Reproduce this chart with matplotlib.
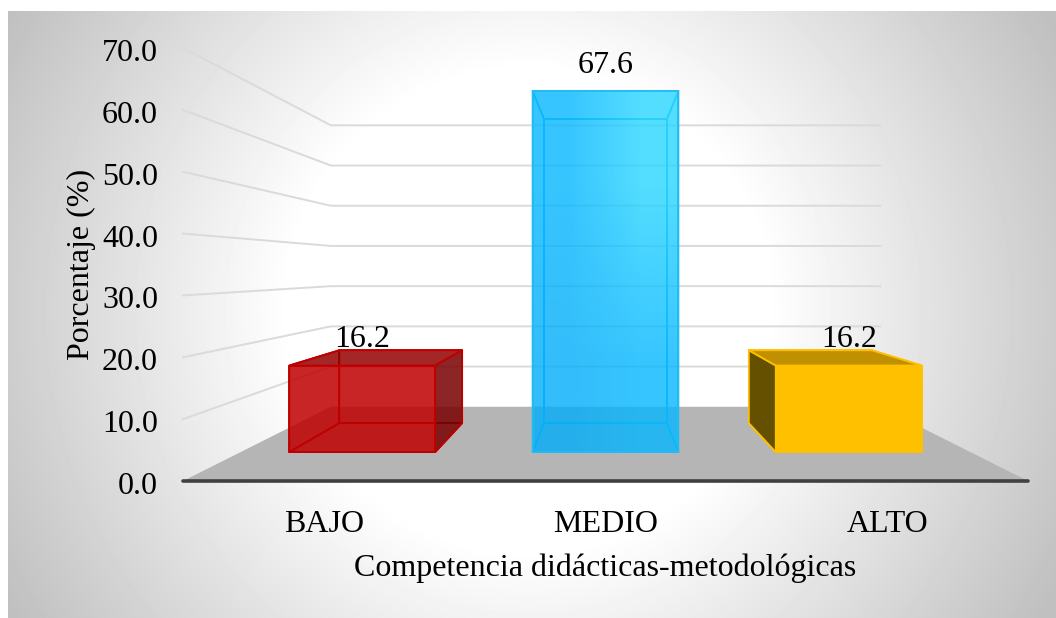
import numpy as np
import matplotlib
matplotlib.use("Agg")
import matplotlib.pyplot as plt
from matplotlib.patches import Polygon
from matplotlib.transforms import ScaledTranslation

categories = ["BAJO", "MEDIO", "ALTO"]
values = [16.2, 67.6, 16.2]
y_ticks = [0, 10, 20, 30, 40, 50, 60, 70]
x_title = "Competencia didácticas-metodológicas"
y_title = "Porcentaje (%)"

W, H = 1056, 618
SHRINK = 0.35     # how much the back wall shrinks
LIFT = 12.0       # back wall floor height in y units
T0, T1 = 0.39, 0.78
HALF = 0.30


def proj(x, y, t):
    """Depth t (0 front, 1 back wall) to coordinates on the front plane."""
    s = 1 - SHRINK * t
    return 1 + (x - 1) * s, LIFT * t + y * s


def box(x, top, t):
    """Four corners of a bar section at depth t."""
    return [proj(x - HALF, 0, t), proj(x + HALF, 0, t),
            proj(x + HALF, top, t), proj(x - HALF, top, t)]


def draw_bar(ax, x, top, st):
    f = box(x, top, T0)
    b = box(x, top, T1)
    faces = {
        "back": b,
        "floor": [f[0], f[1], b[1], b[0]],
        "left": [f[0], f[3], b[3], b[0]],
        "right": [f[1], f[2], b[2], b[1]],
        "top": [f[3], f[2], b[2], b[3]],
        "front": f,
    }
    for i, name in enumerate(faces):
        ax.add_patch(Polygon(faces[name], closed=True, facecolor=st[name],
                             edgecolor=st["edge"], lw=st["lw"], joinstyle="round",
                             clip_on=False, zorder=4 + i * 0.1))
    if "shine" in st:
        # soft diagonal shine on the front face
        g = np.array(st["shine"]).reshape(2, 2, 4)
        im = ax.imshow(g, extent=(f[0][0], f[1][0], f[0][1], f[3][1]), origin="lower",
                       aspect="auto", interpolation="bilinear", zorder=4.45)
        im.set_clip_path(Polygon(f, closed=True, transform=ax.transData))


blue_lo = (0.0, 0.68, 0.98, 0.80)
blue_mid = (0.02, 0.72, 1.0, 0.80)
blue_hi = (0.16, 0.84, 1.0, 0.80)

styles = [
    {"back": "none", "floor": "none", "left": "none",
     "right": (0.47, 0.0, 0.0, 0.85), "top": (0.58, 0.0, 0.0, 0.85),
     "front": (0.75, 0.0, 0.0, 0.85), "edge": "#c00000", "lw": 1.3},
    {"back": "none", "floor": "none", "left": "none", "right": "none", "top": "none",
     "front": "none", "edge": "#22bcf4", "lw": 1.2,
     "shine": [blue_lo, blue_mid, blue_mid, blue_hi]},
    {"back": "none", "floor": "none", "left": "#655000",
     "right": "#ffc000", "top": "#c09000",
     "front": "#ffc000", "edge": "#ffc000", "lw": 1.3},
]

plt.rcParams["font.family"] = ["Liberation Serif", "DejaVu Serif"]

fig = plt.figure(figsize=(W / 100, H / 100), dpi=100)

# radial background panel
bg = fig.add_axes([8 / W, 0, 1 - 8 / W, 1 - 11 / H], zorder=0)
yy, xx = np.mgrid[11:H, 8:W]
d = np.hypot(xx - 528, yy - 310)
shade = 1 - 0.25 * np.clip((d - 240) / 360, 0, 1)
bg.imshow(shade, cmap="gray", vmin=0, vmax=1, aspect="auto", interpolation="bilinear")
bg.axis("off")

# main axes covers the front plane of the chart
left, right, top, bottom = 183, 1028, 48, 481
ax = fig.add_axes([left / W, 1 - bottom / H, (right - left) / W, (bottom - top) / H], zorder=1)
ax.patch.set_alpha(0)

# floor
floor = [proj(-0.5, 0, 0), proj(2.5, 0, 0), proj(2.5, 0, 1), proj(-0.5, 0, 1)]
ax.add_patch(Polygon(floor, closed=True, facecolor="#b5b5b5", edgecolor="none", zorder=1))

# walls: side line then back line for each tick
for v in y_ticks[1:]:
    p0 = proj(-0.5, v, 0)
    p1 = proj(-0.5, v, 1)
    p2 = proj(2.5, v, 1)
    ax.plot([p0[0], p1[0], p2[0]], [p0[1], p1[1], p2[1]], color="#dadada", lw=1.4,
            solid_joinstyle="round", clip_on=False, zorder=2)

for i, v in enumerate(values):
    draw_bar(ax, i, v, styles[i])
    lx, ly = proj(i, v, T0)
    ax.annotate(f"{v:.1f}", (lx, ly), xytext=(0, 18.5), textcoords="offset points",
                ha="center", va="center", fontsize=23, color="black", zorder=6)

# front axis line
ax.plot([-0.5, 2.5], [0, 0], color="#404040", lw=2.6, solid_capstyle="round",
        clip_on=False, zorder=3)

ax.set_xlim(-0.5, 2.5)
ax.set_ylim(0, 70)
ax.set_xticks(range(len(categories)))
ax.set_xticklabels(categories, fontsize=23)
ax.set_yticks(y_ticks)
ax.set_yticklabels([f"{v:.1f}" for v in y_ticks], fontsize=23)
ax.tick_params(axis="both", length=0)
ax.tick_params(axis="y", pad=18)
ax.tick_params(axis="x", pad=21)
ax.set_xlabel(x_title, fontsize=23, labelpad=10)
ax.set_ylabel(y_title, fontsize=23, labelpad=4.5)
nudge = ScaledTranslation(0, -2 / 100, fig.dpi_scale_trans)
for lab in ax.get_yticklabels():
    lab.set_transform(lab.get_transform() + nudge)
for s in ax.spines.values():
    s.set_visible(False)

fig.savefig("out.png", dpi=100)
